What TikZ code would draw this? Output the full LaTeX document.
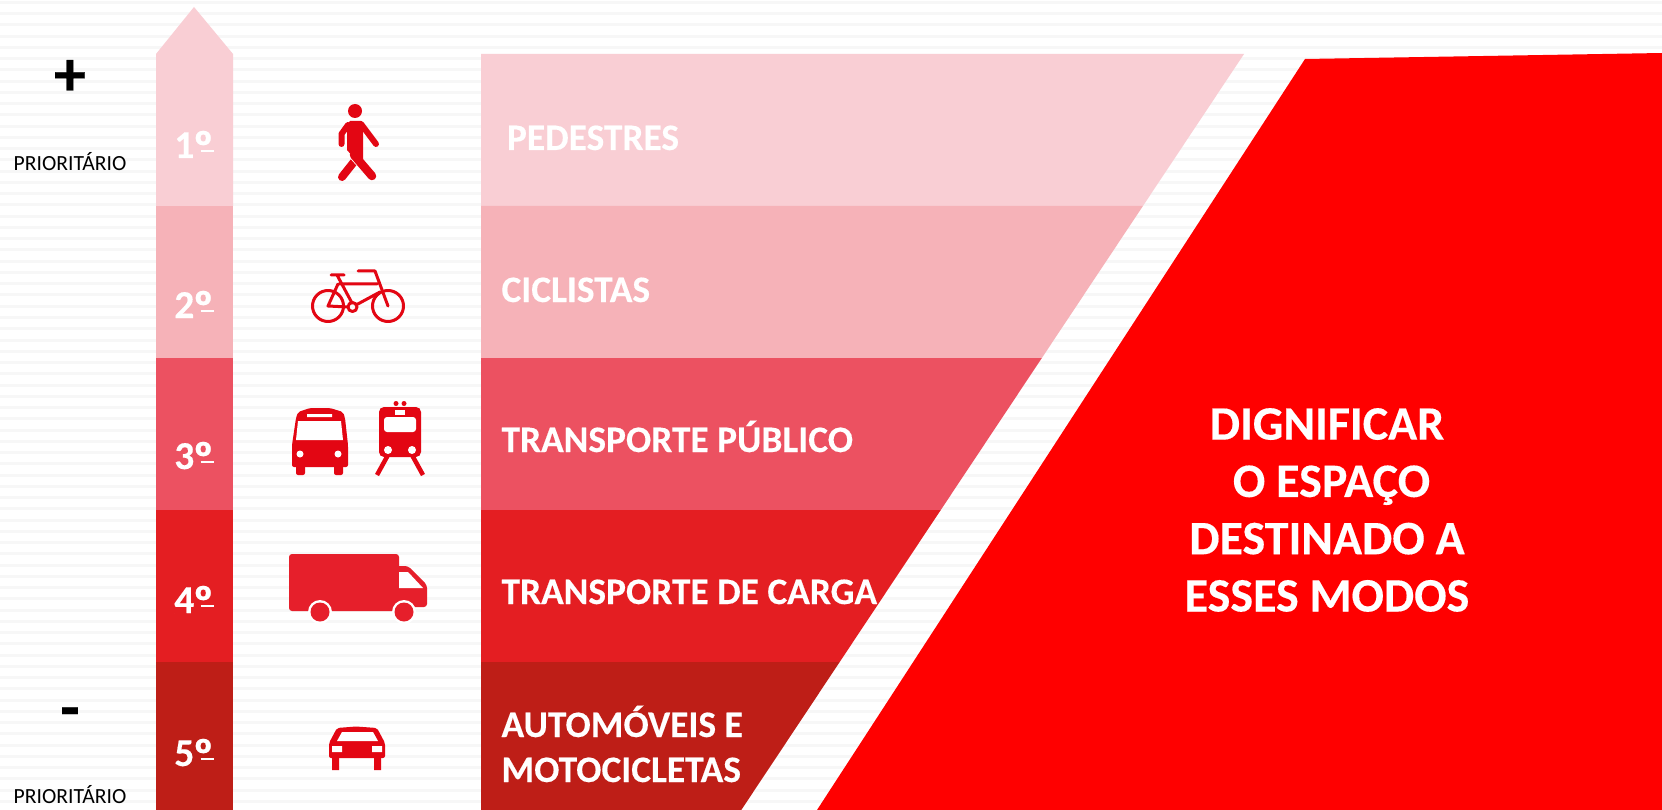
\documentclass[tikz,border=0pt]{standalone}
\usepackage{fontspec}
\setmainfont{Carlito}[BoldFeatures={FakeBold=0.3}]
\definecolor{faixa}{HTML}{F7F7F7}
\definecolor{cor1}{HTML}{F9CED4}
\definecolor{cor2}{HTML}{F6B2B8}
\definecolor{cor3}{HTML}{EC5161}
\definecolor{cor4}{HTML}{E41E22}
\definecolor{cor5}{HTML}{BE1E17}
\definecolor{vermelho}{HTML}{FF0000}
\definecolor{icone}{HTML}{E30613}
\definecolor{caminhao}{HTML}{E61F2B}
\newcommand{\grau}[1]{#1\kern-1.5pt\raisebox{-6pt}{\fontsize{48}{48}\selectfont º}\llap{\rule[6pt]{13pt}{2.4pt}}}
\begin{document}
\begin{tikzpicture}[x=1pt,y=-1pt]
\tikzstyle{every node}=[inner sep=0pt, outer sep=0pt]% sem margem nos textos
\tikzstyle{grau}=[anchor=base, text=white, font=\fontsize{39.5}{39.5}\bfseries\selectfont]
\tikzstyle{modo}=[anchor=base west, text=white, font=\fontsize{37.4}{45}\bfseries\selectfont, align=left]
\tikzstyle{prior}=[anchor=base, text=black, font=\fontsize{21.6}{22}\selectfont]
\tikzstyle{sinal}=[anchor=base, text=black, font=\fontsize{64}{64}\bfseries\selectfont]
\tikzstyle{traco}=[draw=icone, line width=3pt, line cap=round, line join=round]
\useasboundingbox (0,0) rectangle (1662,810);
\fill[white] (0,0) rectangle (1662,810);
\foreach \i in {0,...,71}
  \fill[faixa] (0,1+11.25*\i) rectangle (1662,4+11.25*\i);%fundo listrado
\fill[cor1] (156,54) -- (194,7) -- (233,54) -- (233,206) -- (156,206) -- cycle;%seta
\foreach \ya/\yb/\cor in {206/358/cor2,358/510/cor3,510/662/cor4,662/810/cor5}
  \fill[\cor] (156,\ya) rectangle (233,\yb);
\foreach \ya/\yb/\cor in {54/206/cor1,206/358/cor2,358/510/cor3,510/662/cor4,662/810/cor5}{
  \pgfmathsetmacro{\xa}{1244-(\ya-54)*0.665}
  \pgfmathsetmacro{\xb}{1244-(\yb-54)*0.665}
  \fill[\cor] (481,\ya) -- (\xa,\ya) -- (\xb,\yb) -- (481,\yb) -- cycle;%piramide
}
\fill[vermelho] (1305,59) -- (1662,53) -- (1662,810) -- (817,810) -- cycle;
% pedestre
\fill[icone] (355,111) circle (7);
\draw[traco, line width=8pt] (357,158) -- (342,177);
\draw[white, line width=1.5pt] (349,156) -- (357,165);
\draw[traco, line width=8.5pt] (354,155) -- (372,176);
\fill[icone] (350,121) -- (361,121) -- (363,123) -- (363,160) -- (354,158) -- (347,150) -- (347,124) -- cycle;
\draw[traco, line width=6pt] (348,125) -- (341.5,134) -- (341.5,144);
\draw[traco, line width=6pt] (361,124) -- (376,144);
% bicicleta
\draw[traco] (328,306) circle (15.5) (388,306) circle (15.5) (352.5,307) circle (4.5);
\draw[traco] (331,275) -- (344,275) (337,275) -- (352,303) (339,284) -- (377,284) (358,271) -- (375,271) -- (388,306);
\draw[traco] (380,292) -- (356,305) (348,307) -- (328,306) -- (338,284);
% onibus
\fill[icone, rounded corners=2pt] (292,467) -- (292,445) -- (296,418) -- (298,412) -- (310,408) -- (330,408) -- (343,412) -- (345,418) -- (348,445) -- (348,467) -- cycle;
\fill[icone, rounded corners=2pt] (296,460) rectangle (305,475) (334,460) rectangle (343,475);
\fill[white] (298,421) -- (341,421) -- (343,440) -- (296,440) -- cycle (307,414) rectangle (332,417);
\fill[white] (300,454) circle (3.5) (338,454) circle (3.5);
% trem
\fill[icone, rounded corners=5pt] (379,407) rectangle (421,457);
\fill[icone] (396,403.5) circle (2.5) (404,403.5) circle (2.5);
\fill[white] (395,410) rectangle (405,415);
\fill[white, rounded corners=3pt] (384,417) rectangle (416,432);
\fill[white] (388,450) circle (4) (412,450) circle (4);
\draw[icone, line width=4.5pt] (388,455) -- (377,475) (412,455) -- (423,475);
% caminhao
\fill[caminhao, rounded corners=3pt] (289,554) rectangle (399,611);
\fill[caminhao, rounded corners=3pt] (396,566) -- (408,566) -- (427,585) -- (427,607) -- (396,607) -- cycle;
\fill[white] (399,572) -- (408,572) -- (423,588) -- (399,588) -- cycle;
\fill[white] (320,612) circle (12) (404,612) circle (12);
\fill[caminhao] (320,612) circle (9.5) (404,612) circle (9.5);
% carro
\fill[icone, rounded corners=2pt] (329,758) -- (329,743) -- (337,728) -- (356,726.5) -- (377,728) -- (385,743) -- (385,758) -- cycle;
\fill[icone] (332,755) rectangle (339,770) (374,755) rectangle (381,770);
\fill[white] (342,732) -- (373,732) -- (378,741) -- (337,741) -- cycle;
\fill[white] (332,746) rectangle (342,752) (372,746) rectangle (382,752);
% textos
\node[sinal] (mais) at (70,95.5) {+};
\node[sinal] (menos) at (70,729) {-};
\node[prior] (prior1) at (70,171) {PRIORITÁRIO};
\node[prior] (prior2) at (70,803) {PRIORITÁRIO};
\node[grau] (grau1) at (194,158) {\grau{1}};
\node[grau] (grau2) at (194,318) {\grau{2}};
\node[grau] (grau3) at (194,469) {\grau{3}};
\node[grau] (grau4) at (194,613) {\grau{4}};
\node[grau] (grau5) at (194,766) {\grau{5}};
\node[modo] (pedestres) at (507,150) {PEDESTRES};
\node[modo] (ciclistas) at (501.5,302) {CICLISTAS};
\node[modo] (publico) at (501.5,452) {TRANSPORTE PÚBLICO};
\node[modo] (carga) at (501.5,604) {TRANSPORTE DE CARGA};
\node[modo] (automoveis) at (501.5,737) {AUTOMÓVEIS E};
\node[modo] (motos) at (501.5,782) {MOTOCICLETAS};
\node[anchor=center, text=white, align=center, font=\fontsize{48}{57.3}\bfseries\selectfont] (dignificar) at (1327,510) {DIGNIFICAR\\\hspace*{9pt}O ESPAÇO\\DESTINADO A\\ESSES MODOS};
\end{tikzpicture}
\end{document}
